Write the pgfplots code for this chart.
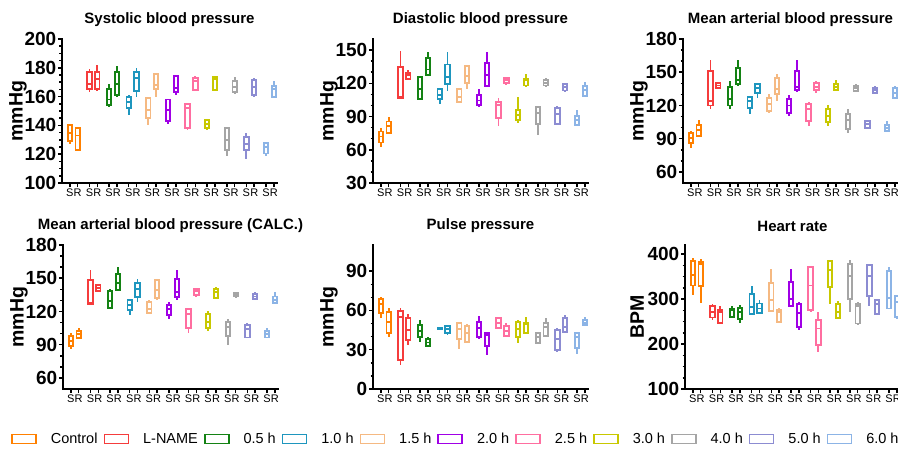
\documentclass[border=0pt]{standalone}
\usepackage{fontspec}
\setmainfont{Liberation Sans}
\usepackage{pgfplots}
\pgfplotsset{compat=1.18}
\usepgfplotslibrary{statistics}
\definecolor{c0}{RGB}{255,128,0}
\definecolor{c1}{RGB}{245,60,60}
\definecolor{c2}{RGB}{20,130,20}
\definecolor{c3}{RGB}{30,150,190}
\definecolor{c4}{RGB}{245,185,130}
\definecolor{c5}{RGB}{160,0,230}
\definecolor{c6}{RGB}{255,110,160}
\definecolor{c7}{RGB}{200,200,0}
\definecolor{c8}{RGB}{165,165,165}
\definecolor{c9}{RGB}{140,140,210}
\definecolor{c10}{RGB}{140,180,230}
% \bx{position}{colour}{lower whisker}{lower quartile}{median}{upper quartile}{upper whisker}
\newcommand{\bx}[7]{\addplot[#2, line width=1.9pt, forget plot, boxplot/draw direction=y, boxplot prepared={draw position=#1, lower whisker=#3, lower quartile=#4, median=#5, upper quartile=#6, upper whisker=#7}] coordinates {};}
\pgfplotsset{
 panel/.style={
  scale only axis, width=215pt, height=144pt,
  xmin=-1, xmax=26.4,
  axis x line*=bottom, axis y line*=left,
  axis line style={line width=2pt, line cap=rect},
  xtick={0,1,2.5,3.5,5,6,7.5,8.5,10,11,12.5,13.5,15,16,17.5,18.5,20,21,22.5,23.5,25,26},
  xticklabels={S,R,S,R,S,R,S,R,S,R,S,R,S,R,S,R,S,R,S,R,S,R},
  minor x tick num=0,
  major tick length=4pt, minor tick length=2.5pt,
  tick align=outside,
  every tick/.style={black, line width=1.5pt},
  xticklabel style={font=\fontsize{11}{11}\selectfont, inner sep=2pt},
  yticklabel style={font=\fontsize{19}{19}\bfseries, inner sep=1.5pt},
  /pgf/number format/assume math mode=true,
  title style={font=\fontsize{15}{16}\bfseries, at={(0.5,1)}, anchor=center, yshift=13pt},
  every axis y label/.style={at={(axis description cs:-0.205,0.5)}, rotate=90, anchor=center},
  ylabel style={font=\fontsize{19.5}{20}\bfseries},
  boxplot/draw direction=y,
  boxplot/box extend=0.55, boxplot/whisker extend=0,
 },
 boxlegend/.style={legend image code/.code={\draw[line width=1.6pt] (0pt,-4.5pt) rectangle (24pt,4.5pt);}},
}
\begin{document}
\begin{tikzpicture}
\useasboundingbox (0pt,0pt) rectangle (898pt,448pt);
\clip (0pt,0pt) rectangle (898pt,448pt);
% ---------- Systolic
\begin{axis}[panel, at={(62pt,265pt)}, anchor=south west, ymin=100, ymax=200, ytick={100,120,...,200}, minor y tick num=3, title={Systolic blood pressure}, ylabel={mmHg}]
\bx{0}{c0}{127}{129}{135}{140}{141}
\bx{1}{c0}{122}{123}{133}{138}{139}
\bx{2.5}{c1}{163}{165}{169}{177}{179}
\bx{3.5}{c1}{164}{165}{172}{177}{182}
\bx{5}{c2}{153}{154}{158}{165}{169}
\bx{6}{c2}{160}{161}{169}{177}{181}
\bx{7.5}{c3}{147}{152}{156}{160}{161}
\bx{8.5}{c3}{160}{164}{173}{177}{180}
\bx{10}{c4}{140}{145}{151}{159}{159.5}
\bx{11}{c4}{160}{165}{168}{176}{176}
\bx{12.5}{c5}{141}{143}{151}{158}{158.5}
\bx{13.5}{c5}{161}{163}{166}{174}{174.5}
\bx{15}{c6}{137}{138}{152}{155}{155.5}
\bx{16}{c6}{164}{164.5}{171}{173}{174.5}
\bx{17.5}{c7}{137}{138}{141}{144}{144.5}
\bx{18.5}{c7}{164}{164.5}{172}{173.5}{174.5}
\bx{20}{c8}{119}{123}{130}{138}{139}
\bx{21}{c8}{162}{163}{166.5}{171}{173.5}
\bx{22.5}{c9}{117}{123}{127}{132}{134.5}
\bx{23.5}{c9}{160}{161}{166.5}{171.5}{173}
\bx{25}{c10}{119}{120.5}{125}{127.5}{128}
\bx{26}{c10}{159.5}{160}{165}{167.5}{170.5}
\end{axis}
% ---------- Diastolic
\begin{axis}[panel, at={(373pt,265pt)}, anchor=south west, ymin=30, ymax=160, ytick={30,60,...,150}, minor y tick num=2, title={Diastolic blood pressure}, ylabel={mmHg}]
\bx{0}{c0}{62.4}{66.6}{72}{76.5}{79.5}
\bx{1}{c0}{74.5}{75}{81.5}{85.5}{90}
\bx{2.5}{c1}{106.5}{107}{108}{135}{149.5}
\bx{3.5}{c1}{123.5}{124}{127.5}{129.5}{132}
\bx{5}{c2}{105}{105.5}{114.5}{125.5}{126.5}
\bx{6}{c2}{127}{127.5}{132.5}{142.5}{148.5}
\bx{7.5}{c3}{101.5}{105.5}{109.5}{114.5}{115}
\bx{8.5}{c3}{113.5}{119.5}{126}{137}{148.5}
\bx{10}{c4}{102.5}{103}{108}{114.5}{115.5}
\bx{11}{c4}{114.5}{120}{126.5}{135.5}{136.5}
\bx{12.5}{c5}{99}{100.5}{104.5}{109.5}{114.5}
\bx{13.5}{c5}{116.5}{117.5}{127.5}{138.5}{148.5}
\bx{15}{c6}{81.5}{88.5}{100.5}{103.5}{106.5}
\bx{16}{c6}{118.5}{120.5}{123}{125}{126}
\bx{17.5}{c7}{84.5}{87}{91.5}{96}{108}
\bx{18.5}{c7}{117.5}{118}{123}{123.5}{128.5}
\bx{20}{c8}{73.5}{83.5}{93.5}{98.5}{99.5}
\bx{21}{c8}{117.5}{118}{120.5}{123}{125}
\bx{22.5}{c9}{82.5}{83.5}{92.5}{97.5}{99.5}
\bx{23.5}{c9}{112.5}{113.5}{116.5}{119.5}{120.5}
\bx{25}{c10}{81.5}{82.5}{87}{90.5}{96}
\bx{26}{c10}{108}{108.5}{114}{117.5}{121.5}
\end{axis}
% ---------- Mean arterial
\begin{axis}[panel, at={(683pt,265pt)}, anchor=south west, ymin=50, ymax=180, ytick={60,90,...,180}, minor y tick num=2, title={Mean arterial blood pressure}, ylabel={mmHg}]
\bx{0}{c0}{82}{86}{91}{95.5}{97}
\bx{1}{c0}{91.5}{92.5}{98}{102}{107}
\bx{2.5}{c1}{117}{120}{124}{151}{161}
\bx{3.5}{c1}{135.5}{136}{138}{140}{140.5}
\bx{5}{c2}{117}{120}{125.5}{137}{142}
\bx{6}{c2}{138}{139}{143}{154}{161}
\bx{7.5}{c3}{112}{118}{124}{128}{128.5}
\bx{8.5}{c3}{127}{131.5}{136}{139}{140.5}
\bx{10}{c4}{113.5}{115}{121}{127}{130}
\bx{11}{c4}{124}{130}{135}{145}{148}
\bx{12.5}{c5}{110.5}{113.5}{120}{126}{129}
\bx{13.5}{c5}{132}{134}{137}{151}{161}
\bx{15}{c6}{101.5}{106}{116.5}{121}{123}
\bx{16}{c6}{131.5}{134}{137}{140.5}{142}
\bx{17.5}{c7}{101.5}{105}{110.5}{117}{120}
\bx{18.5}{c7}{133}{134}{137}{139}{143}
\bx{20}{c8}{95.5}{99}{107}{112}{116.5}
\bx{21}{c8}{133}{133}{136}{137.5}{139}
\bx{22.5}{c9}{98.5}{100}{103}{106}{106.5}
\bx{23.5}{c9}{131}{131}{134}{136}{137.5}
\bx{25}{c10}{96}{97}{100}{102}{106}
\bx{26}{c10}{126}{127}{131.5}{136}{137.5}
\end{axis}
% ---------- Mean arterial (CALC.)
\begin{axis}[panel, at={(63pt,59pt)}, anchor=south west, ymin=50, ymax=180, ytick={60,90,...,180}, minor y tick num=2, title={Mean arterial blood pressure (CALC.)}, ylabel={mmHg},
  legend columns=11,
  legend style={at={(-0.2419,-0.347)}, anchor=west, draw=none, fill=none, inner xsep=0pt, inner ysep=0pt, font=\fontsize{14.5}{15}\selectfont, nodes={inner sep=2pt}, /tikz/every odd column/.append style={column sep=12pt}, /tikz/every even column/.append style={column sep=4pt}}]
\addlegendimage{boxlegend, draw=c0}\addlegendentry{Control}
\addlegendimage{boxlegend, draw=c1}\addlegendentry{L-NAME}
\addlegendimage{boxlegend, draw=c2}\addlegendentry{0.5 h}
\addlegendimage{boxlegend, draw=c3}\addlegendentry{1.0 h}
\addlegendimage{boxlegend, draw=c4}\addlegendentry{1.5 h}
\addlegendimage{boxlegend, draw=c5}\addlegendentry{2.0 h}
\addlegendimage{boxlegend, draw=c6}\addlegendentry{2.5 h}
\addlegendimage{boxlegend, draw=c7}\addlegendentry{3.0 h}
\addlegendimage{boxlegend, draw=c8}\addlegendentry{4.0 h}
\addlegendimage{boxlegend, draw=c9}\addlegendentry{5.0 h}
\addlegendimage{boxlegend, draw=c10}\addlegendentry{6.0 h}
\bx{0}{c0}{86}{88.5}{93}{98}{100.5}
\bx{1}{c0}{95}{96}{99.5}{102}{105.5}
\bx{2.5}{c1}{126.5}{127}{128}{148.5}{157}
\bx{3.5}{c1}{137.5}{138.5}{141.5}{143.5}{144}
\bx{5}{c2}{122.5}{123}{129.5}{138.5}{140.5}
\bx{6}{c2}{139}{139.5}{145.5}{153.5}{160}
\bx{7.5}{c3}{116.5}{121}{125.5}{130}{130.5}
\bx{8.5}{c3}{128.5}{133}{140.5}{145.5}{149.5}
\bx{10}{c4}{118}{118.5}{122.5}{128.5}{130}
\bx{11}{c4}{130}{132.5}{139.5}{148}{149.5}
\bx{12.5}{c5}{113.5}{116.5}{122}{125.5}{128.5}
\bx{13.5}{c5}{130.5}{133}{137.5}{149.5}{157.5}
\bx{15}{c6}{100.5}{105}{118}{122}{122.5}
\bx{16}{c6}{133}{134.5}{138.5}{140.5}{141}
\bx{17.5}{c7}{102.5}{105}{110.5}{117.5}{120.5}
\bx{18.5}{c7}{132.5}{132.5}{137.5}{140.5}{142.5}
\bx{20}{c8}{90}{97.5}{106}{110.5}{113}
\bx{21}{c8}{133}{133.5}{135}{136.5}{137}
\bx{22.5}{c9}{96}{96.5}{104}{108}{109.5}
\bx{23.5}{c9}{131}{131.5}{133.5}{135.5}{137.5}
\bx{25}{c10}{96}{96.5}{99.5}{102}{105}
\bx{26}{c10}{127}{127.5}{130.5}{133.5}{137.5}
\end{axis}
% ---------- Pulse pressure
\begin{axis}[panel, at={(373pt,59pt)}, anchor=south west, ymin=0, ymax=110, ytick={0,30,60,90}, minor y tick num=2, title={Pulse pressure}, ylabel={mmHg}]
\bx{0}{c0}{54.5}{58}{65}{68.5}{70}
\bx{1}{c0}{40}{42.5}{51}{59}{61.5}
\bx{2.5}{c1}{18.5}{22}{55}{59.5}{61.5}
\bx{3.5}{c1}{33.5}{37.5}{45}{54}{57.5}
\bx{5}{c2}{36}{39.5}{44.5}{49}{52.5}
\bx{6}{c2}{32}{33}{35.5}{38}{39.5}
\bx{7.5}{c3}{45.8}{46}{46.5}{47}{47.2}
\bx{8.5}{c3}{41}{43}{45.5}{48}{49}
\bx{10}{c4}{30.5}{38}{45.5}{50.5}{51.5}
\bx{11}{c4}{35.5}{36}{42.5}{48}{49.5}
\bx{12.5}{c5}{38}{39.5}{46.5}{51.5}{55.5}
\bx{13.5}{c5}{26}{33}{41}{43}{43.5}
\bx{15}{c6}{45.5}{46.5}{50.5}{54}{55}
\bx{16}{c6}{40.5}{40.5}{44.5}{48}{50.5}
\bx{17.5}{c7}{35.5}{39.5}{45.5}{51.5}{52.5}
\bx{18.5}{c7}{43}{43}{49.5}{50.5}{55}
\bx{20}{c8}{35}{35}{40}{42.5}{43.5}
\bx{21}{c8}{40.5}{40.5}{47.5}{50.5}{54.5}
\bx{22.5}{c9}{28}{30}{38.5}{45}{46.5}
\bx{23.5}{c9}{42.5}{43.5}{47.5}{54.5}{56.5}
\bx{25}{c10}{27}{31}{40}{43}{43.5}
\bx{26}{c10}{48.5}{49}{50.5}{52.5}{55}
\end{axis}
% ---------- Heart rate
\begin{axis}[panel, at={(685pt,59pt)}, anchor=south west, ymin=100, ymax=420, ytick={100,200,300,400}, minor y tick num=3, title={Heart rate}, ylabel={BPM}, every axis y label/.style={at={(axis description cs:-0.223,0.5)}, rotate=90, anchor=center}, ylabel style={font=\fontsize{19.5}{20}\bfseries}]
\bx{0}{c0}{308}{330}{354}{384}{391}
\bx{1}{c0}{291}{328}{378}{381.5}{389}
\bx{2.5}{c1}{254}{259}{271}{284}{288}
\bx{3.5}{c1}{244}{247}{271}{276.5}{284}
\bx{5}{c2}{260}{260.5}{275}{279}{284}
\bx{6}{c2}{247}{256.5}{271}{281}{286}
\bx{7.5}{c3}{267}{267.5}{282}{312}{330}
\bx{8.5}{c3}{269}{269.5}{279}{290}{298.5}
\bx{10}{c4}{273}{273.5}{298.5}{335}{367}
\bx{11}{c4}{247}{249}{271}{276.5}{281}
\bx{12.5}{c5}{283.5}{284}{300.5}{337.5}{367}
\bx{13.5}{c5}{232}{238}{269}{289.5}{293.5}
\bx{15}{c6}{271}{275}{330}{370.5}{371}
\bx{16}{c6}{183}{198}{234.5}{253}{271}
\bx{17.5}{c7}{288}{326.5}{364.5}{384}{387}
\bx{18.5}{c7}{256.5}{257}{271}{288}{295.5}
\bx{20}{c8}{271}{300.5}{352}{378}{387}
\bx{21}{c8}{244}{245.5}{284}{288}{293.5}
\bx{22.5}{c9}{284}{306}{352}{376.5}{378}
\bx{23.5}{c9}{266}{266.5}{289.5}{297}{298.5}
\bx{25}{c10}{278.5}{279}{303}{363}{372}
\bx{26}{c10}{256.5}{260.5}{293.5}{306}{308}
\end{axis}
\end{tikzpicture}
\end{document}
